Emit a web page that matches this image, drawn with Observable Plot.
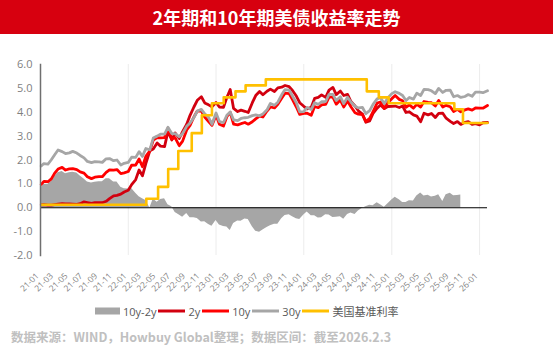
<!DOCTYPE html>
<html><head><meta charset="utf-8">
<script src="https://cdn.jsdelivr.net/npm/d3@7"></script>
<script src="https://cdn.jsdelivr.net/npm/@observablehq/plot@0.6"></script>
<style>
body{margin:0;background:#fff;width:553px;height:353px;overflow:hidden;font-family:"Noto Sans CJK SC","Noto Sans",sans-serif;}
#title{height:34px;background:#d7000f;color:#fff;font-weight:bold;font-size:18px;line-height:34px;text-align:center;letter-spacing:0px;}
#chart svg{display:block;}
#legend{display:flex;align-items:center;padding-left:95px;height:14px;margin-top:2px;font-size:11px;color:#595959;font-family:"Open Sans","Noto Sans CJK SC",sans-serif;}
#legend .it{display:flex;align-items:center;margin-right:2px;}
#legend .lab{margin-left:3px;}
#legend .cjk{font-family:"Noto Sans CJK SC",sans-serif;}
#caption{padding-left:11px;margin-top:9px;font-size:12.5px;font-weight:bold;color:#c0c0c0;font-family:"Noto Sans CJK SC",sans-serif;white-space:nowrap;}
</style></head>
<body>
<div id="title">2年期和10年期美债收益率走势</div>
<div id="chart"></div>
<div id="legend"></div>
<div id="caption">数据来源：WIND，Howbuy Global整理；数据区间：截至2026.2.3</div>
<script>
// ---- data (semi-monthly readings) ----
const months = ["2021-01","2021-02","2021-03","2021-04","2021-05","2021-06","2021-07","2021-08","2021-09","2021-10","2021-11","2021-12",
"2022-01","2022-02","2022-03","2022-04","2022-05","2022-06","2022-07","2022-08","2022-09","2022-10","2022-11","2022-12",
"2023-01","2023-02","2023-03","2023-04","2023-05","2023-06","2023-07","2023-08","2023-09","2023-10","2023-11","2023-12",
"2024-01","2024-02","2024-03","2024-04","2024-05","2024-06","2024-07","2024-08","2024-09","2024-10","2024-11","2024-12",
"2025-01","2025-02","2025-03","2025-04","2025-05","2025-06","2025-07","2025-08","2025-09","2025-10","2025-11","2025-12",
"2026-01"];
const lastDate = "2026-02-03";
const spreadEnd = "2025-10-15";

const y2 = [
0.12,0.13, 0.11,0.11, 0.13,0.15, 0.17,0.16, 0.16,0.15, 0.14,0.17, 0.25,0.22, 0.18,0.21, 0.21,0.21, 0.27,0.38, 0.50,0.52, 0.57,0.66,
0.73,0.97, 1.18,1.58, 1.34,1.85, 2.39,2.46, 2.71,2.58, 2.56,3.20, 2.84,3.13, 2.90,3.19, 3.50,3.87, 4.22,4.50, 4.65,4.39, 4.31,4.23,
4.41,4.22, 4.21,4.62, 4.95,4.16, 4.03,4.09, 4.04,3.99, 4.40,4.70, 4.87,4.73, 4.88,4.97, 4.87,5.02, 5.05,5.12, 5.07,4.91, 4.68,4.40,
4.25,4.14, 4.21,4.58, 4.62,4.73, 4.62,4.93, 5.04,4.74, 4.89,4.70, 4.75,4.45, 4.26,4.06, 3.92,3.58, 3.64,3.95, 4.17,4.30, 4.15,4.24,
4.25,4.26, 4.20,4.26, 3.99,4.02, 3.89,3.84, 3.60,3.96, 3.89,3.95, 3.78,3.95, 3.96,3.75, 3.62,3.53, 3.61,3.49, 3.58,3.61, 3.49,3.52,
3.47,3.56, 3.57];

const y10 = [
0.98,1.10, 1.09,1.21, 1.45,1.62, 1.69,1.58, 1.63,1.64, 1.60,1.50, 1.45,1.30, 1.22,1.28, 1.30,1.30, 1.48,1.59, 1.58,1.60, 1.43,1.46,
1.52,1.78, 1.79,2.04, 1.72,2.15, 2.38,2.83, 2.94,2.93, 2.94,3.33, 2.88,2.93, 2.60,2.79, 3.26,3.45, 3.80,4.05, 4.05,3.80, 3.61,3.45,
3.88,3.50, 3.42,3.81, 4.00,3.50, 3.47,3.52, 3.57,3.50, 3.60,3.72, 3.84,3.80, 4.05,4.22, 4.18,4.33, 4.59,4.80, 4.78,4.53, 4.22,3.91,
3.95,3.96, 3.87,4.24, 4.19,4.31, 4.33,4.63, 4.63,4.34, 4.51,4.22, 4.47,4.23, 3.98,3.92, 3.90,3.62, 3.74,4.03, 4.38,4.43, 4.17,4.40,
4.57,4.70, 4.54,4.48, 4.21,4.31, 4.17,4.33, 4.22,4.45, 4.41,4.40, 4.26,4.49, 4.22,4.29, 4.23,4.03, 4.12,4.02, 4.10,4.14, 4.09,4.18,
4.17,4.17, 4.28];

const y30 = [
1.75,1.85, 1.83,2.01, 2.22,2.42, 2.35,2.27, 2.30,2.36, 2.29,2.19, 2.09,1.94, 1.89,1.93, 1.92,1.90, 2.05,2.06, 1.97,2.00, 1.79,1.86,
1.90,2.12, 2.11,2.35, 2.15,2.48, 2.43,2.92, 3.00,3.08, 3.08,3.37, 3.11,3.10, 2.97,3.11, 3.41,3.55, 3.78,4.05, 4.12,3.93, 3.79,3.50,
3.97,3.61, 3.57,3.87, 4.01,3.68, 3.65,3.74, 3.77,3.79, 3.86,3.89, 3.85,3.93, 4.10,4.37, 4.29,4.42, 4.73,4.95, 4.93,4.68, 4.40,4.02,
4.03,4.20, 4.11,4.40, 4.33,4.44, 4.45,4.75, 4.75,4.49, 4.65,4.36, 4.63,4.43, 4.25,4.18, 4.20,3.94, 4.07,4.33, 4.56,4.61, 4.36,4.60,
4.78,4.86, 4.79,4.70, 4.49,4.62, 4.55,4.80, 4.70,4.96, 4.95,4.90, 4.78,5.00, 4.83,4.92, 4.93,4.65, 4.70,4.62, 4.66,4.74, 4.67,4.84,
4.84,4.82, 4.90];

const fedDates = ["2021-01-04","2022-03-17","2022-05-05","2022-06-16","2022-07-28","2022-09-22","2022-11-03","2022-12-15",
"2023-02-02","2023-03-23","2023-05-04","2023-07-27","2024-09-19","2024-11-08","2024-12-19","2025-09-18","2025-10-24","2026-02-03"];
const fedRates = [0.125,0.375,0.875,1.625,2.375,3.125,3.875,4.375,4.625,4.875,5.125,5.375,4.875,4.625,4.375,4.125,3.55,3.55];

const xTickLabels = ["21-01","21-03","21-05","21-07","21-09","21-11","22-01","22-03","22-05","22-07","22-09","22-11",
"23-01","23-03","23-05","23-07","23-09","23-11","24-01","24-03","24-05","24-07","24-09","24-11",
"25-01","25-03","25-05","25-07","25-09","25-11","26-01"];
const gridYears = ["2022-01-01","2023-01-01","2024-01-01","2025-01-01","2026-01-01"];
const yTicks = [-2,-1,0,1,2,3,4,5,6];

const seriesNames = ["10y-2y","2y","10y","30y","美国基准利率"];
const seriesColors = ["#a6a6a6","#d2000f","#ff0000","#a6a6a6","#ffc000"];

// ---- build tables ----
const dateStrs = months.flatMap((m,i) => [i===0 ? m+"-04" : m+"-01", m+"-15"]).concat([lastDate]);
const dates = dateStrs.map(s => new Date(s));
const rows = dates.map((d,i) => ({date:d, y2:y2[i], y10:y10[i], y30:y30[i]}));
const spreadRows = rows.filter(r => r.date <= new Date(spreadEnd)).map(r => ({date:r.date, spread: r.y10 - r.y2}));
const fed = fedDates.map((d,i) => ({date:new Date(d), rate:fedRates[i]}));
const parseTick = d3.utcParse("%y-%m");
const xTicks = xTickLabels.map(parseTick);
const grid = gridYears.map(s => new Date(s));

const chart = Plot.plot({
  width: 553,
  height: 268,
  marginLeft: 40,
  marginRight: 66,
  marginTop: 30,
  marginBottom: 47,
  style: {fontFamily: "'Open Sans','Noto Sans',sans-serif", background: "#fff"},
  x: {type: "utc", domain: [xTicks[0], dates[dates.length-1]]},
  y: {domain: [-2, 6]},
  marks: [
    Plot.gridX(grid, {stroke: "#ececec", strokeOpacity: 1, strokeWidth: 1}),
    Plot.areaY(spreadRows, {x: "date", y1: 0, y2: "spread", fill: seriesColors[0], curve: "linear"}),
    Plot.ruleY([0], {stroke: "#000", strokeWidth: 1}),
    Plot.line(rows, {x: "date", y: "y2", stroke: seriesColors[1], strokeWidth: 2.8}),
    Plot.line(rows, {x: "date", y: "y10", stroke: seriesColors[2], strokeWidth: 2.8}),
    Plot.line(rows, {x: "date", y: "y30", stroke: seriesColors[3], strokeWidth: 2.8}),
    Plot.line(fed, {x: "date", y: "rate", stroke: seriesColors[4], strokeWidth: 2.6, curve: "step-after"}),
    Plot.frame({anchor: "left", stroke: "#6f6f6f", strokeWidth: 1.5}),
    Plot.axisY(yTicks, {tickFormat: d => d.toFixed(1), tickSize: 0, tickPadding: 8, fontSize: 11, fill: "#7f7f7f", label: null}),
    Plot.axisX(xTicks, {anchor: "bottom", tickFormat: d3.utcFormat("%y-%m"), tickRotate: -45, tickSize: 0, tickPadding: 19, fontSize: 8.5, fill: "#7f7f7f", label: null, dx: -3})
  ]
});
document.getElementById("chart").appendChild(chart);

// ---- legend ----
const leg = document.getElementById("legend");
seriesNames.forEach((name,i) => {
  const it = document.createElement("div");
  it.className = "it";
  const sw = i === 0
    ? `<svg width="25" height="8"><rect x="0" y="0.5" width="25" height="7" fill="${seriesColors[i]}"/></svg>`
    : `<svg width="27" height="8"><line x1="0" y1="4" x2="27" y2="4" stroke="${seriesColors[i]}" stroke-width="3"/></svg>`;
  it.innerHTML = sw + `<span class="lab${i===4?' cjk':''}">${name}</span>`;
  leg.appendChild(it);
});
</script>
</body></html>
